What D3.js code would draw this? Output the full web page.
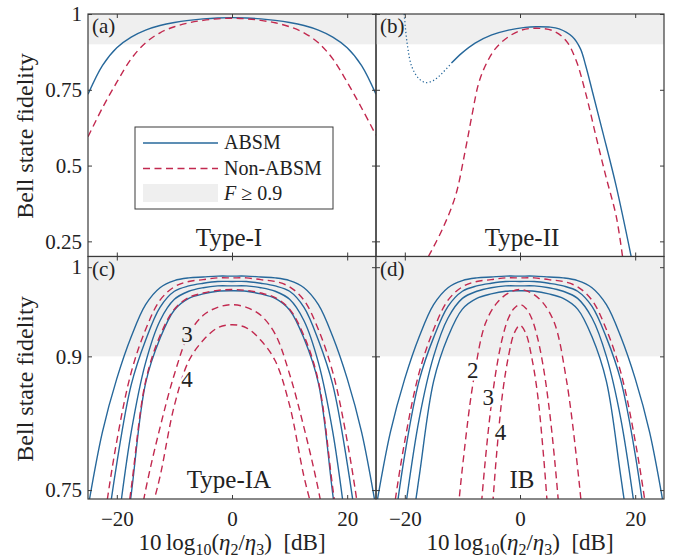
<!DOCTYPE html>
<html>
<head>
<meta charset="utf-8">
<script src="https://cdn.jsdelivr.net/npm/d3@7"></script>
<style>
  body { margin: 0; background: #fff; }
  svg text { font-family: "Liberation Serif", "DejaVu Serif", serif; fill: #222; }
</style>
</head>
<body>
<div id="chart"></div>
<script>
// ---- data ----
var xGrid = [-25,-22.5,-20,-17.5,-15,-12.5,-10,-7.5,-5,-2.5,0,2.5,5,7.5,10,12.5,15,17.5,20,22.5,25];

// (a) Type-I
var absmA = [0.735,0.830,0.889,0.924,0.947,0.962,0.972,0.979,0.984,0.987,0.988,0.987,0.984,0.979,0.972,0.962,0.947,0.924,0.889,0.830,0.735];
var nonA  = [0.595,0.690,0.775,0.852,0.905,0.938,0.958,0.971,0.979,0.984,0.986,0.984,0.979,0.971,0.958,0.938,0.905,0.852,0.775,0.690,0.600];

// (b) Type-II
var xBdot = [-20.1,-19.6,-18.8,-17.6,-16.4,-15,-13.5,-11.9];
var absmBdot = [1.0,0.904,0.827,0.788,0.774,0.781,0.805,0.838];
var xBsol = [-11.9,-10.1,-7.8,-4.9,-2,0.9,2.8,5,6.8,9.1,10.5,11.4,12.6,14.4,16.7,19.3];
var absmB = [0.838,0.871,0.904,0.931,0.947,0.956,0.958,0.957,0.951,0.925,0.885,0.830,0.742,0.608,0.432,0.20];
var xBnon = [-15.9,-13.5,-11.2,-9.5,-8.3,-7.2,-6.0,-4.3,-2.0,0.3,2.8,5.7,8.0,9.7,11.4,13.2,14.9,16.7,17.8];
var nonB  = [0.20,0.289,0.40,0.55,0.67,0.77,0.83,0.885,0.925,0.947,0.953,0.945,0.912,0.849,0.739,0.596,0.465,0.333,0.20];

// (c) Type-IA
var absmC1 = [0.730,0.815,0.875,0.922,0.958,0.977,0.985,0.988,0.989,0.990,0.990,0.990,0.989,0.988,0.985,0.977,0.958,0.922,0.875,0.815,0.730];
var absmC2 = [0.520,0.665,0.780,0.868,0.918,0.955,0.973,0.979,0.982,0.984,0.984,0.984,0.982,0.979,0.973,0.955,0.918,0.868,0.780,0.665,0.520];
var absmC3 = [0.420,0.570,0.700,0.815,0.893,0.940,0.964,0.973,0.977,0.979,0.979,0.979,0.977,0.973,0.964,0.940,0.893,0.815,0.700,0.570,0.420];
var absmC4 = [0.320,0.480,0.620,0.745,0.870,0.920,0.952,0.965,0.970,0.973,0.9735,0.973,0.970,0.965,0.952,0.920,0.870,0.745,0.620,0.480,0.320];
var nonC1  = [0.560,0.700,0.805,0.882,0.930,0.963,0.978,0.984,0.986,0.988,0.988,0.988,0.986,0.984,0.978,0.963,0.930,0.882,0.805,0.700,0.560];
var nonC2  = [0.330,0.490,0.630,0.752,0.872,0.923,0.953,0.966,0.971,0.974,0.975,0.974,0.971,0.966,0.953,0.923,0.872,0.752,0.630,0.490,0.330];
var nonC3  = [0.330,0.450,0.560,0.660,0.750,0.820,0.880,0.925,0.946,0.955,0.958,0.955,0.946,0.925,0.880,0.820,0.750,0.660,0.560,0.450,0.330];
var nonC4  = [0.300,0.400,0.500,0.600,0.700,0.765,0.845,0.895,0.918,0.932,0.9355,0.932,0.918,0.895,0.845,0.765,0.700,0.600,0.500,0.400,0.300];

// (d) IB
var absmD1 = [0.730,0.815,0.875,0.922,0.958,0.977,0.985,0.988,0.989,0.990,0.990,0.990,0.989,0.988,0.985,0.977,0.958,0.922,0.875,0.815,0.730];
var absmD2 = [0.530,0.675,0.790,0.873,0.921,0.956,0.973,0.979,0.982,0.984,0.984,0.984,0.982,0.979,0.973,0.956,0.921,0.873,0.790,0.675,0.530];
var absmD3 = [0.450,0.600,0.725,0.830,0.900,0.943,0.965,0.973,0.977,0.979,0.979,0.979,0.977,0.973,0.965,0.943,0.900,0.830,0.725,0.600,0.450];
var absmD4 = [0.350,0.510,0.650,0.765,0.872,0.922,0.953,0.965,0.970,0.973,0.9735,0.973,0.970,0.965,0.953,0.922,0.872,0.765,0.650,0.510,0.350];
var nonD1  = [0.560,0.700,0.805,0.882,0.930,0.963,0.978,0.984,0.986,0.988,0.988,0.988,0.986,0.984,0.978,0.963,0.930,0.882,0.805,0.700,0.560];
var xD2 = [-12,-10,-8,-6,-4,-2,0,2,4,6,8,10,12];
var nonD2 = [0.640,0.775,0.876,0.937,0.960,0.971,0.975,0.971,0.960,0.937,0.876,0.775,0.640];
var xD34 = [-8,-7,-6,-5,-4,-3,-2,-1,0,1,2,3,4,5,6,7,8];
var nonD3 = [0.62,0.71,0.785,0.845,0.89,0.922,0.943,0.954,0.958,0.954,0.943,0.922,0.89,0.845,0.785,0.71,0.62];
var nonD4 = [0.40,0.50,0.61,0.71,0.795,0.86,0.90,0.926,0.935,0.926,0.90,0.86,0.795,0.71,0.61,0.50,0.40];

var xTicks = [-20, 0, 20];
var yTicksTop = [0.25, 0.5, 0.75, 1];
var yTicksBot = [0.75, 0.9, 1];
var panelTags = ["(a)", "(b)", "(c)", "(d)"];
var panelNames = ["Type-I", "Type-II", "Type-IA", "IB"];

// ---- layout ----
var width = 677, height = 560;
var blue = "#27689b", red = "#c2294f", band = "#efefef", ink = "#3a3a3a";
var serif = "'Liberation Serif', 'DejaVu Serif', serif";
var colX = [[88, 376], [376, 664]];
var rowY = [[14, 256.5], [256.5, 499]];
var yDomains = [[0.2, 1], [0.74, 1.012]];

var svg = d3.select("#chart").append("svg")
  .attr("width", width).attr("height", height);

function zip(xs, ys) { return xs.map(function(x, i) { return [x, ys[i]]; }); }

var panels = [];
for (var r = 0; r < 2; r++) {
  for (var c = 0; c < 2; c++) {
    var x = d3.scaleLinear().domain([-25, 25]).range(colX[c]);
    var y = d3.scaleLinear().domain(yDomains[r]).range([rowY[r][1], rowY[r][0]]);
    var id = "clip" + r + c;
    svg.append("clipPath").attr("id", id).append("rect")
      .attr("x", colX[c][0]).attr("y", rowY[r][0])
      .attr("width", colX[c][1] - colX[c][0]).attr("height", rowY[r][1] - rowY[r][0]);
    var g = svg.append("g");
    // F >= 0.9 band
    g.append("rect")
      .attr("x", colX[c][0]).attr("y", rowY[r][0])
      .attr("width", colX[c][1] - colX[c][0]).attr("height", y(0.9) - rowY[r][0])
      .attr("fill", band);
    var lines = g.append("g").attr("clip-path", "url(#" + id + ")");
    panels.push({ x: x, y: y, g: g, lines: lines, r: r, c: c });
  }
}

function draw(p, xs, ys, color, dash, w) {
  var line = d3.line().x(function(d) { return p.x(d[0]); }).y(function(d) { return p.y(d[1]); })
    .curve(d3.curveCatmullRom.alpha(0.5));
  p.lines.append("path").datum(zip(xs, ys))
    .attr("d", line).attr("fill", "none").attr("stroke", color)
    .attr("stroke-width", w || 1.4).attr("stroke-dasharray", dash || null);
}
var dashed = "7,4.5";

draw(panels[0], xGrid, absmA, blue);
draw(panels[0], xGrid, nonA, red, dashed);

draw(panels[1], xBdot, absmBdot, blue, "1.2,2.4", 1.3);
draw(panels[1], xBsol, absmB, blue);
draw(panels[1], xBnon, nonB, red, dashed);

[absmC1, absmC2, absmC3, absmC4].forEach(function(v) { draw(panels[2], xGrid, v, blue); });
[nonC1, nonC2, nonC3, nonC4].forEach(function(v) { draw(panels[2], xGrid, v, red, dashed); });

[absmD1, absmD2, absmD3, absmD4].forEach(function(v) { draw(panels[3], xGrid, v, blue); });
draw(panels[3], xGrid, nonD1, red, dashed);
draw(panels[3], xD2, nonD2, red, dashed);
draw(panels[3], xD34, nonD3, red, dashed);
draw(panels[3], xD34, nonD4, red, dashed);

// ---- frames and ticks ----
panels.forEach(function(p, i) {
  var yt = p.r === 0 ? yTicksTop : yTicksBot;
  var x0 = colX[p.c][0], x1 = colX[p.c][1], y0 = rowY[p.r][0], y1 = rowY[p.r][1];
  var left = d3.axisLeft(p.y).tickValues(yt).tickSizeInner(-4).tickSizeOuter(0).tickPadding(6)
    .tickFormat(p.c === 0 ? d3.format("") : "");
  var right = d3.axisRight(p.y).tickValues(yt).tickSizeInner(-4).tickSizeOuter(0).tickFormat("");
  var top = d3.axisTop(p.x).tickValues(xTicks).tickSizeInner(-4).tickSizeOuter(0).tickFormat("");
  var bottom = d3.axisBottom(p.x).tickValues(xTicks).tickSizeInner(-4).tickSizeOuter(0).tickPadding(12)
    .tickFormat(p.r === 1 ? d3.format("") : "");
  [[left, "translate(" + x0 + ",0)"], [right, "translate(" + x1 + ",0)"],
   [top, "translate(0," + y0 + ")"], [bottom, "translate(0," + y1 + ")"]].forEach(function(a) {
    var ax = svg.append("g").attr("transform", a[1]).call(a[0]);
    ax.attr("font-family", null);
    ax.select(".domain").remove();
    ax.selectAll("line").attr("stroke", ink).attr("stroke-width", 1);
    ax.selectAll("text").style("font-family", serif).attr("font-size", 21).attr("fill", "#222");
  });
  p.g.append("rect").attr("x", x0).attr("y", y0).attr("width", x1 - x0).attr("height", y1 - y0)
    .attr("fill", "none").attr("stroke", ink).attr("stroke-width", 1.2);
  svg.append("text").attr("x", x0 + 4).attr("y", y0 + 19).attr("font-size", 21).text(panelTags[i]);
  svg.append("text").attr("x", (x0 + x1) / 2 + (p.c === 0 ? -3 : 2)).attr("y", y1 - 11)
    .attr("text-anchor", "middle").attr("font-size", 25).text(panelNames[i]);
});

// curve labels (drawn over the curves with a halo of the local background)
var curveLabels = [
  { p: 2, x: -7.8, y: 0.925, t: "3", bg: band },
  { p: 2, x: -7.8, y: 0.875, t: "4", bg: "#fff" },
  { p: 3, x: -8.2, y: 0.885, t: "2", bg: "#fff" },
  { p: 3, x: -5.5, y: 0.855, t: "3", bg: "#fff" },
  { p: 3, x: -3.4, y: 0.815, t: "4", bg: "#fff" }
];
curveLabels.forEach(function(l) {
  var p = panels[l.p];
  svg.append("text").attr("x", p.x(l.x)).attr("y", p.y(l.y)).attr("dy", "0.35em")
    .attr("text-anchor", "middle").attr("font-size", 23)
    .attr("stroke", l.bg).attr("stroke-width", 5).attr("paint-order", "stroke")
    .text(l.t);
});

// y labels
[136, 379].forEach(function(cy) {
  svg.append("text").attr("transform", "translate(33," + cy + ") rotate(-90)")
    .attr("text-anchor", "middle").attr("font-size", 24).text("Bell state fidelity");
});

// x labels
[232, 520].forEach(function(cx) {
  var t = svg.append("text").attr("x", cx).attr("y", 550).attr("text-anchor", "middle").attr("font-size", 23);
  t.append("tspan").text("10\u2009log");
  t.append("tspan").attr("font-size", 16).attr("dy", 5).text("10");
  t.append("tspan").attr("dy", -5).text("(");
  t.append("tspan").attr("font-style", "italic").text("\u03b7");
  t.append("tspan").attr("font-size", 16).attr("dy", 5).text("2");
  t.append("tspan").attr("dy", -5).text("/");
  t.append("tspan").attr("font-style", "italic").text("\u03b7");
  t.append("tspan").attr("font-size", 16).attr("dy", 5).text("3");
  t.append("tspan").attr("dy", -5).text(")\u2002[dB]");
});

// legend
var lg = svg.append("g");
lg.append("rect").attr("x", 135).attr("y", 127).attr("width", 198).attr("height", 82)
  .attr("fill", "#fff").attr("stroke", ink).attr("stroke-width", 1);
lg.append("line").attr("x1", 143).attr("x2", 218).attr("y1", 143).attr("y2", 143)
  .attr("stroke", blue).attr("stroke-width", 1.4);
lg.append("line").attr("x1", 143).attr("x2", 218).attr("y1", 168.5).attr("y2", 168.5)
  .attr("stroke", red).attr("stroke-width", 1.4).attr("stroke-dasharray", dashed);
lg.append("rect").attr("x", 143).attr("y", 184).attr("width", 75).attr("height", 18).attr("fill", band);
lg.append("text").attr("x", 224).attr("y", 149).attr("font-size", 20).text("ABSM");
lg.append("text").attr("x", 224).attr("y", 175).attr("font-size", 20).text("Non-ABSM");
var ft = lg.append("text").attr("x", 224).attr("y", 200).attr("font-size", 20);
ft.append("tspan").attr("font-style", "italic").text("F");
ft.append("tspan").text(" \u2265 0.9");
</script>
</body>
</html>
